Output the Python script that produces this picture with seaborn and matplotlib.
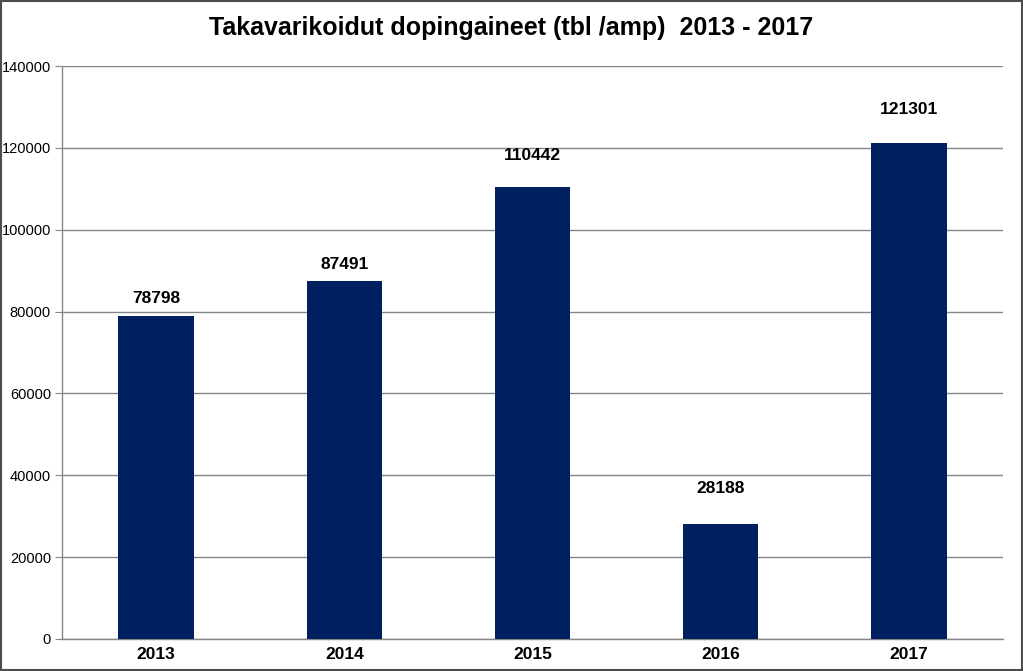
import pandas as pd
import matplotlib.pyplot as plt
import seaborn as sns

# --- Data ---
years = ['2013', '2014', '2015', '2016', '2017']
seized = [78798, 87491, 110442, 28188, 121301]
y_ticks = [0, 20000, 40000, 60000, 80000, 100000, 120000, 140000]

df = pd.DataFrame({'Vuosi': years, 'Maara': seized})

sns.set_style('white')
plt.rcParams['font.family'] = ['Liberation Sans', 'DejaVu Sans']
plt.rcParams['text.color'] = 'black'
plt.rcParams['xtick.color'] = 'black'
plt.rcParams['ytick.color'] = 'black'

fig = plt.figure(figsize=(10.23, 6.71), dpi=100)
ax = fig.add_axes([62 / 1023, 32 / 671, 941 / 1023, 573 / 671])

sns.barplot(x='Vuosi', y='Maara', data=df, color='#002060', saturation=1,
            width=0.4, linewidth=0, ax=ax, zorder=3)

# Labels above bars (offsets in points)
label_offsets = [13, 12, 23, 25, 24]
for bar, val, off in zip(ax.patches, seized, label_offsets):
    ax.annotate(f'{val}', (bar.get_x() + bar.get_width() / 2, bar.get_height()),
                xytext=(0, off), textcoords='offset points',
                ha='center', va='center', fontsize=12.5, fontweight='bold', color='black')

ax.set_ylim(0, 140000)
ax.set_xlim(-0.5, 4.5)
ax.set_yticks(y_ticks)
ax.set_yticklabels([str(t) for t in y_ticks], fontsize=10.5)
ax.yaxis.grid(True, color='#868686', linewidth=1)
ax.set_axisbelow(True)

# x ticks between categories
ax.set_xticks(range(5))
ax.set_xticklabels(years, fontsize=12.5, fontweight='bold')
ax.tick_params(axis='x', length=0, pad=6)
ax.set_xticks([i + 0.5 for i in range(-1, 5)], minor=True)
ax.tick_params(axis='x', which='minor', length=5, color='#868686', direction='out')
ax.tick_params(axis='y', length=5, color='#868686', labelcolor='black', direction='out', left=True, pad=3)

for side in ['top', 'right']:
    ax.spines[side].set_visible(False)
for side in ['left', 'bottom']:
    ax.spines[side].set_color('#868686')
    ax.spines[side].set_linewidth(1)

ax.set_xlabel('')
ax.set_ylabel('')

fig.text(0.5, 1 - 28 / 671, 'Takavarikoidut dopingaineet (tbl /amp)  2013 - 2017',
         ha='center', va='center', fontsize=18, fontweight='bold', color='black')

# Outer border
fig.patches.append(plt.Rectangle((0.001, 0.001), 0.998, 0.997, transform=fig.transFigure,
                                 fill=False, edgecolor='#4d4d4d', linewidth=1.5))

plt.savefig('out.png', dpi=100)
